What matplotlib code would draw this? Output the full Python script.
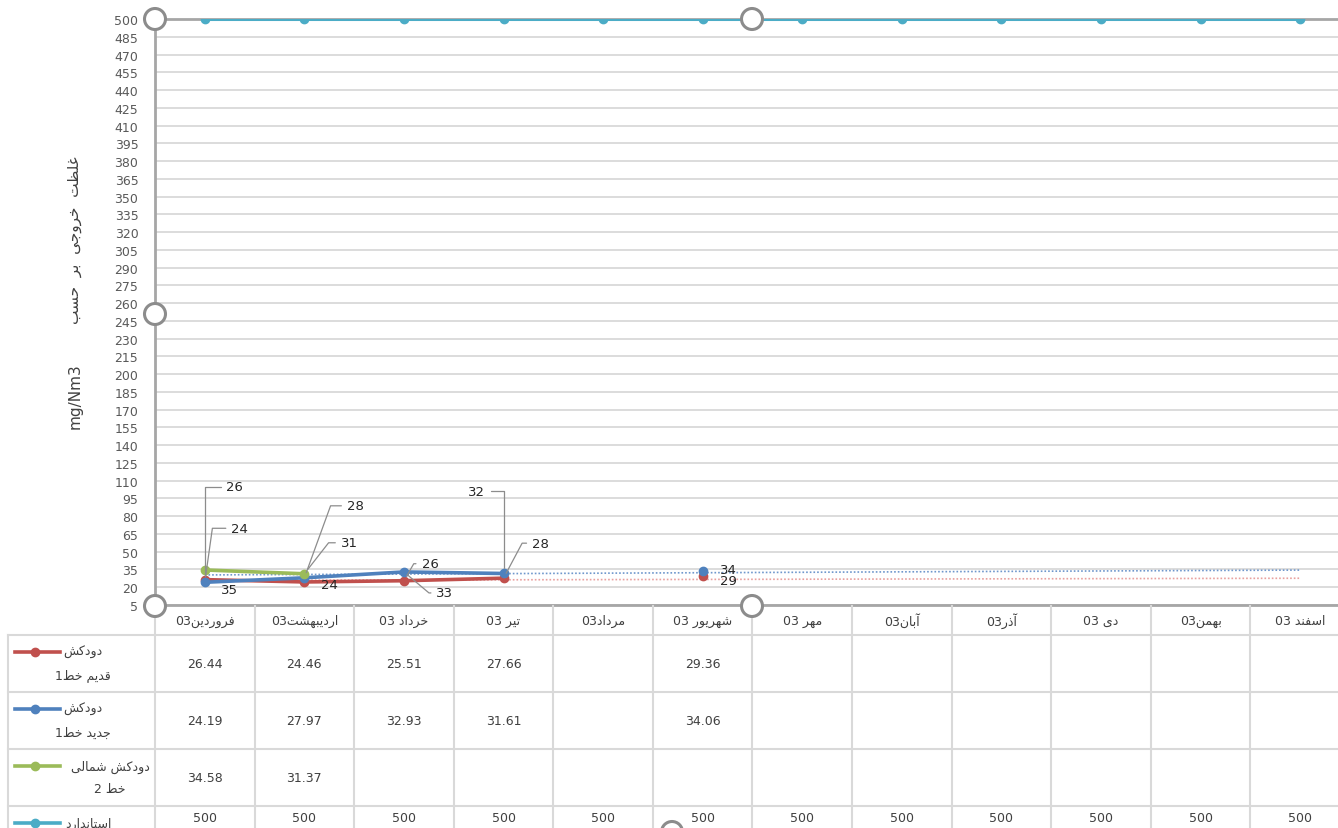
import numpy as np
import matplotlib
matplotlib.use('Agg')
import matplotlib.pyplot as plt
from matplotlib.patches import Circle
from matplotlib.lines import Line2D

# ---- data ----
months = ['فروردین03', 'اردیبهشت03', 'خرداد 03', 'تیر 03', 'مرداد03', 'شهریور 03',
          'مهر 03', 'آبان03', 'آذر03', 'دی 03', 'بهمن03', 'اسفند 03']
nan = np.nan
old_line1 = [26.44, 24.46, 25.51, 27.66, nan, 29.36, nan, nan, nan, nan, nan, nan]
new_line1 = [24.19, 27.97, 32.93, 31.61, nan, 34.06, nan, nan, nan, nan, nan, nan]
north_line2 = [34.58, 31.37, nan, nan, nan, nan, nan, nan, nan, nan, nan, nan]
standard = [500] * 12
# dotted trend lines, value at first and last month
old_trend = [25.8, 27.6]
new_trend = [30.4, 34.5]

# legend names (one entry per wrapped line)
names = [['دودکش', 'قدیم خط1'], ['دودکش', 'جدید خط1'], ['دودکش شمالی', 'خط 2'], ['استاندارد']]
ylabel = 'غلظت  خروجی  بر  حسب'
yunit = 'mg/Nm3'

colors = ['#C0504D', '#4F81BD', '#9BBB59', '#4BACC6']

# ---- persian letters -> presentation forms (matplotlib does no shaping) ----
FORMS = {
    'ا': ('\uFE8D', '\uFE8E', None, None),
    'آ': ('\uFE81', '\uFE82', None, None),
    'ب': ('\uFE8F', '\uFE90', '\uFE91', '\uFE92'),
    'ت': ('\uFE95', '\uFE96', '\uFE97', '\uFE98'),
    'ج': ('\uFE9D', '\uFE9E', '\uFE9F', '\uFEA0'),
    'ح': ('\uFEA1', '\uFEA2', '\uFEA3', '\uFEA4'),
    'خ': ('\uFEA5', '\uFEA6', '\uFEA7', '\uFEA8'),
    'د': ('\uFEA9', '\uFEAA', None, None),
    'ذ': ('\uFEAB', '\uFEAC', None, None),
    'ر': ('\uFEAD', '\uFEAE', None, None),
    'ز': ('\uFEAF', '\uFEB0', None, None),
    'س': ('\uFEB1', '\uFEB2', '\uFEB3', '\uFEB4'),
    'ش': ('\uFEB5', '\uFEB6', '\uFEB7', '\uFEB8'),
    'ط': ('\uFEC1', '\uFEC2', '\uFEC3', '\uFEC4'),
    'ظ': ('\uFEC5', '\uFEC6', '\uFEC7', '\uFEC8'),
    'غ': ('\uFECD', '\uFECE', '\uFECF', '\uFED0'),
    'ف': ('\uFED1', '\uFED2', '\uFED3', '\uFED4'),
    'ق': ('\uFED5', '\uFED6', '\uFED7', '\uFED8'),
    'ل': ('\uFEDD', '\uFEDE', '\uFEDF', '\uFEE0'),
    'م': ('\uFEE1', '\uFEE2', '\uFEE3', '\uFEE4'),
    'ن': ('\uFEE5', '\uFEE6', '\uFEE7', '\uFEE8'),
    'ه': ('\uFEE9', '\uFEEA', '\uFEEB', '\uFEEC'),
    'و': ('\uFEED', '\uFEEE', None, None),
    'ک': ('\uFB8E', '\uFB8F', '\uFB90', '\uFB91'),
    'ی': ('\uFBFC', '\uFBFD', '\uFBFE', '\uFBFF'),
}


def shape(word):
    # join letters and reverse them for left-to-right drawing
    out = []
    for i, ch in enumerate(word):
        f = FORMS.get(ch)
        if f is None:
            out.append(ch)
            continue
        prev = word[i - 1] if i > 0 else ''
        nxt = word[i + 1] if i < len(word) - 1 else ''
        jp = prev in FORMS and FORMS[prev][2] is not None
        jn = f[2] is not None and nxt in FORMS
        if jp and jn:
            out.append(f[3])
        elif jp:
            out.append(f[1])
        elif jn:
            out.append(f[2])
        else:
            out.append(f[0])
    return ''.join(reversed(out))


def fa(s):
    # crude right-to-left ordering: words reversed, trailing digits go left
    out = []
    for t in reversed(s.split(' ')):
        head = t.rstrip('0123456789')
        out.append(t[len(head):] + shape(head))
    return ' '.join(out)


# ---- figure ----
W, H = 1338, 829
fig = plt.figure(figsize=(W / 100, H / 100), dpi=100)
plt.rcParams['font.family'] = ['DejaVu Sans']
txt = '#404040'
fs = 9

cw = 99.58  # category width in px
left, top, bot = 155, 20, 606
ax = fig.add_axes([left / W, 1 - bot / H, 12 * cw / W, (bot - top) / H])
x = np.arange(12)

ax.set_xlim(-0.5, 11.5)
ax.set_ylim(5, 500)
ax.set_yticks(np.arange(5, 501, 15))
ax.tick_params(axis='y', length=0, labelsize=fs, labelcolor='#595959', pad=12)
ax.tick_params(axis='x', length=0, labelbottom=False)
ax.grid(axis='y', color='#D9D9D9', lw=1.3)
ax.set_axisbelow(True)
for s in ['left', 'top', 'bottom']:
    ax.spines[s].set_color('#A6A6A6')
    ax.spines[s].set_linewidth(2)
ax.spines['right'].set_visible(False)

# trend lines (dotted)
ax.plot([0, 11], old_trend, color='#E8A09E', lw=1.2, ls=(0, (1, 1.2)), zorder=2)
ax.plot([0, 11], new_trend, color='#6F97CC', lw=1.2, ls=(0, (1, 1.2)), zorder=2)

series = [old_line1, new_line1, north_line2, standard]
for i, ys in enumerate(series):
    lw = 2.2 if i == 3 else 2.6
    ax.plot(x, ys, color=colors[i], lw=lw, marker='o', ms=6, zorder=3 + i,
            solid_capstyle='round')

# data labels: (series, month, dx px, dy px, leader angle or None)
labels = [
    (0, 0, 30, 93, 90), (1, 0, 35, 54, 82), (2, 0, 25, -20, None),
    (0, 1, 25, -3, None), (1, 1, 51, 72, 70), (2, 1, 45, 31, 52),
    (0, 2, 26, 17, 60), (1, 2, 41, -21, -40),
    (0, 3, 37, 35, 62), (1, 3, -27, 82, 90),
    (1, 5, 26, 1, None), (0, 5, 26, -4, None),
]
for si, mi, dx, dy, ang in labels:
    v = series[si][mi]
    kw = dict(textcoords='offset pixels', fontsize=9.5, color='#262626',
              ha='center', va='center', zorder=10)
    if ang is not None:
        kw['arrowprops'] = dict(arrowstyle='-', color='#8C8C8C', lw=0.9,
                                shrinkA=2, shrinkB=4,
                                connectionstyle='angle,angleA=0,angleB=%g,rad=0' % ang)
    ax.annotate('%.0f' % v, (mi, v), xytext=(dx, dy), **kw)

# y axis title, persian part above the unit
fig.text(75 / W, 1 - 240 / H, fa(ylabel), rotation=90, ha='center', va='center',
         fontsize=11, color=txt)
fig.text(75 / W, 1 - 396 / H, yunit, rotation=90, ha='center', va='center',
         fontsize=11, color=txt)

# ---- data table under the plot ----
tl, tt, tb = 8, 607, 864
tab = fig.add_axes([tl / W, 1 - tb / H, (left + 12 * cw - tl) / W, (tb - tt) / H])
x0 = -0.5 - (left - tl) / cw
tab.set_xlim(x0, 11.5)
tab.set_ylim(tb - tt, 0)
tab.axis('off')
gc = '#D9D9D9'
rows = [0, 29, 86, 143, 200, 257]
for r in rows[1:]:
    tab.plot([x0, 11.5], [r, r], color=gc, lw=1.5, clip_on=False)
for k in range(13):
    tab.plot([k - 0.5, k - 0.5], [0, 257], color=gc, lw=1.5, clip_on=False)
tab.plot([x0, x0], [29, 257], color=gc, lw=1.5, clip_on=False)

for k, m in enumerate(months):
    tab.text(k, 14.5, fa(m), ha='center', va='center', fontsize=fs, color=txt)

name_cx = [81, 81, 108, None]  # centre of the name block, px from table left
for i, ys in enumerate(series):
    yc = (rows[i + 1] + rows[i + 2]) / 2
    for k, v in enumerate(ys):
        if np.isnan(v):
            continue
        s = '%d' % v if i == 3 else '%.2f' % v
        tab.text(k, yc if i < 3 else yc - 17, s, ha='center', va='center',
                 fontsize=fs, color=txt)
    # legend key
    ky = rows[i + 1] + 17
    lx = x0 + 7 / cw
    tab.add_line(Line2D([lx, lx + 20 / cw, lx + 45 / cw], [ky, ky, ky], color=colors[i],
                        lw=2.6, marker='o', markevery=[1], ms=6))
    nm = names[i]
    if name_cx[i] is None:
        tab.text(x0 + 57 / cw, ky, fa(nm[0]), ha='left', va='center',
                 fontsize=fs, color=txt)
    else:
        cx = x0 + (name_cx[i] - 6) / cw
        tab.text(cx, ky, fa(nm[0]), ha='center', va='center', fontsize=fs, color=txt)
        tab.text(cx, ky + 23, fa(nm[1]), ha='center', va='center', fontsize=fs, color=txt)

# selection handles of the chart
for hx, hy in [(155, 20), (752, 20), (155, 315), (155, 607), (752, 607), (672, 833)]:
    c = Circle((hx, H - hy), 10.5, transform=None, facecolor='white',
               edgecolor='#8C8C8C', lw=2.2, zorder=20)
    fig.patches.append(c)

fig.savefig('out.png', dpi=100)
